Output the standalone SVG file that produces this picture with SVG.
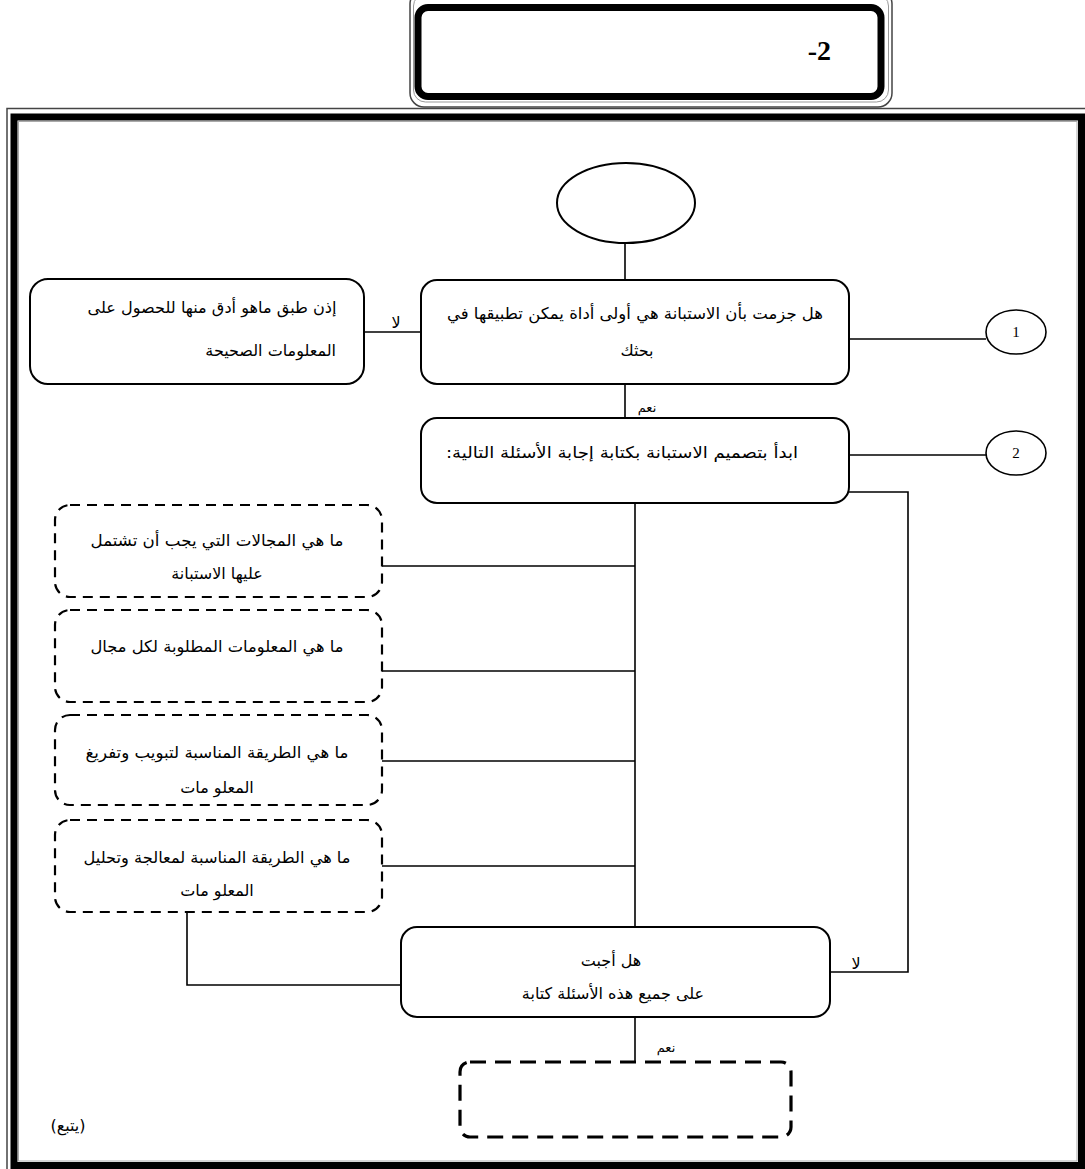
<svg xmlns="http://www.w3.org/2000/svg" width="1085" height="1169" viewBox="0 0 1085 1169">
<style>
.ar{font-family:"DejaVu Sans","Liberation Sans",sans-serif;font-size:16px;fill:#000}
.sm{font-size:13px}
.box{fill:#fff;stroke:#000;stroke-width:2}
.dash{fill:#fff;stroke:#000;stroke-width:2.2;stroke-dasharray:10 7}
.dash2{fill:none;stroke:#000;stroke-width:3.2;stroke-dasharray:16 9}
.con{fill:none;stroke:#000;stroke-width:1.6}
.num{font-family:"Liberation Serif",serif;font-size:15px;text-anchor:middle}
</style>
<rect width="1085" height="1169" fill="#fff"/>
<g id="frame">
<path d="M7,1169 V108.5 H1085" fill="none" stroke="#444" stroke-width="1.5"/>
<rect x="14" y="117" width="1067.5" height="1048.5" fill="none" stroke="#000" stroke-width="7"/>
<rect x="18.5" y="121.5" width="1058.5" height="1039.5" fill="none" stroke="#aaa" stroke-width="1"/>
</g>
<g id="title">
<rect x="410" y="-10" width="482" height="117" rx="14" fill="none" stroke="#444" stroke-width="1.5"/>
<rect x="413.5" y="-6" width="475" height="108" rx="12" fill="none" stroke="#999" stroke-width="1"/>
<rect x="418" y="7.5" width="463" height="89" rx="10" fill="#fff" stroke="#000" stroke-width="7"/>
<text x="831" y="60" font-family="Liberation Serif, serif" font-weight="bold" font-size="28" text-anchor="end">-2</text>
</g>
<g id="connectors">
<line class="con" x1="625" y1="244" x2="625" y2="280"/>
<line class="con" x1="364" y1="332" x2="421" y2="332"/>
<line class="con" x1="849" y1="339" x2="986" y2="339"/>
<line class="con" x1="625" y1="384" x2="625" y2="418"/>
<line class="con" x1="849" y1="455" x2="986" y2="455"/>
<polyline class="con" points="849,492 908,492 908,972 830,972"/>
<line class="con" x1="635" y1="503" x2="635" y2="927"/>
<line class="con" x1="382" y1="566" x2="635" y2="566"/>
<line class="con" x1="382" y1="671" x2="635" y2="671"/>
<line class="con" x1="382" y1="761" x2="635" y2="761"/>
<line class="con" x1="382" y1="866" x2="635" y2="866"/>
<polyline class="con" points="187,912 187,985 401,985"/>
<line class="con" x1="635" y1="1017" x2="635" y2="1062"/>
<text class="ar" x="396" y="328" text-anchor="middle" direction="rtl">لا</text>
<text class="ar sm" x="647" y="412" text-anchor="middle" direction="rtl">نعم</text>
<text class="ar" x="856" y="969" text-anchor="middle" direction="rtl">لا</text>
<text class="ar sm" x="666" y="1052" text-anchor="middle" direction="rtl">نعم</text>
</g>
<g id="start">
<ellipse cx="626" cy="203" rx="69" ry="40" fill="#fff" stroke="#000" stroke-width="2"/>
</g>
<g id="q1">
<rect class="box" x="421" y="280" width="428" height="104" rx="16"/>
<text class="ar" x="635" y="319" text-anchor="middle" direction="rtl" textLength="376" lengthAdjust="spacingAndGlyphs">هل جزمت بأن الاستبانة هي أولى أداة يمكن تطبيقها في</text>
<text class="ar" x="637" y="356" text-anchor="middle" direction="rtl">بحثك</text>
</g>
<g id="no1">
<rect class="box" x="30" y="279" width="334" height="105" rx="18"/>
<text class="ar" x="212" y="313" text-anchor="middle" direction="rtl" textLength="249" lengthAdjust="spacingAndGlyphs">إذن طبق ماهو أدق منها للحصول على</text>
<text class="ar" x="336" y="356" text-anchor="start" direction="rtl">المعلومات الصحيحة</text>
</g>
<g id="c1">
<ellipse cx="1016" cy="332" rx="30" ry="22" fill="#fff" stroke="#000" stroke-width="1.6"/>
<text class="num" x="1016" y="337">1</text>
</g>
<g id="step2">
<rect class="box" x="421" y="418" width="428" height="85" rx="16"/>
<text class="ar" x="622" y="458" text-anchor="middle" direction="rtl" textLength="352" lengthAdjust="spacingAndGlyphs">ابدأ بتصميم الاستبانة بكتابة إجابة الأسئلة التالية:</text>
</g>
<g id="c2">
<ellipse cx="1016" cy="453" rx="30" ry="22" fill="#fff" stroke="#000" stroke-width="1.6"/>
<text class="num" x="1016" y="458">2</text>
</g>
<g id="d1">
<rect class="dash" x="55" y="505" width="327" height="92" rx="15"/>
<text class="ar" x="217" y="546" text-anchor="middle" direction="rtl" textLength="253" lengthAdjust="spacingAndGlyphs">ما هي المجالات التي يجب أن تشتمل</text>
<text class="ar" x="217" y="579" text-anchor="middle" direction="rtl">عليها الاستبانة</text>
</g>
<g id="d2">
<rect class="dash" x="55" y="610" width="327" height="92" rx="15"/>
<text class="ar" x="217" y="652" text-anchor="middle" direction="rtl" textLength="253" lengthAdjust="spacingAndGlyphs">ما هي المعلومات المطلوبة لكل مجال</text>
</g>
<g id="d3">
<rect class="dash" x="55" y="715" width="327" height="90" rx="15"/>
<text class="ar" x="217" y="758" text-anchor="middle" direction="rtl" textLength="263" lengthAdjust="spacingAndGlyphs">ما هي الطريقة المناسبة لتبويب وتفريغ</text>
<text class="ar" x="217" y="793" text-anchor="middle" direction="rtl">المعلو مات</text>
</g>
<g id="d4">
<rect class="dash" x="55" y="820" width="327" height="92" rx="15"/>
<text class="ar" x="217" y="863" text-anchor="middle" direction="rtl" textLength="267" lengthAdjust="spacingAndGlyphs">ما هي الطريقة المناسبة لمعالجة وتحليل</text>
<text class="ar" x="217" y="896" text-anchor="middle" direction="rtl">المعلو مات</text>
</g>
<g id="q2">
<rect class="box" x="401" y="927" width="429" height="90" rx="16"/>
<text class="ar" x="611" y="966" text-anchor="middle" direction="rtl">هل أجبت</text>
<text class="ar" x="613" y="999" text-anchor="middle" direction="rtl">على جميع هذه الأسئلة كتابة</text>
</g>
<g id="next">
<rect class="dash2" x="460" y="1062" width="331" height="75" rx="10"/>
</g>
<g id="cont">
<text class="ar" x="68" y="1131" text-anchor="middle" direction="rtl">(يتبع)</text>
</g>
</svg>
